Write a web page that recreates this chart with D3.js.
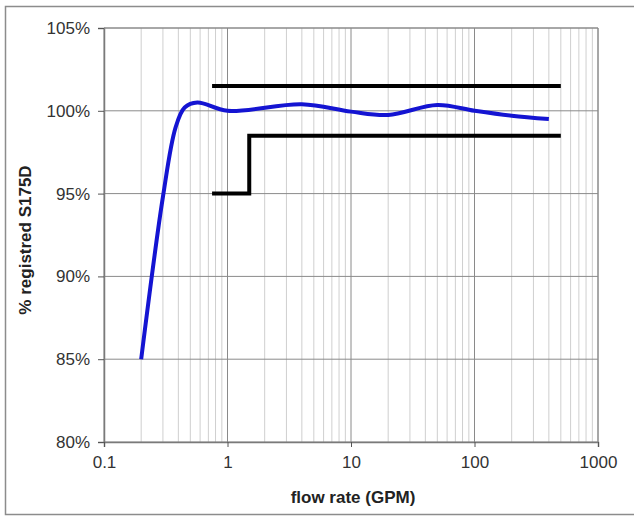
<!DOCTYPE html>
<html><head><meta charset="utf-8">
<script src="https://cdn.jsdelivr.net/npm/d3@7"></script>
<style>body{margin:0;background:#fff} text{font-family:"Liberation Sans",Arial,sans-serif}</style>
</head><body><svg id="c" width="634" height="519"></svg>
<script>
const flowRates = [0.2, 0.3, 0.38, 0.45, 0.57, 1, 4, 10, 20, 50, 100, 200, 400];
const registered = [85, 94.8, 99.0, 100.2, 100.5, 100.0, 100.4, 99.95, 99.75, 100.35, 100.0, 99.7, 99.5];
const upperLimitX = [0.75, 500];
const upperLimitY = [101.5, 101.5];
const lowerLimitX = [0.75, 1.5, 1.5, 500];
const lowerLimitY = [95, 95, 98.5, 98.5];
const xTicks = [0.1, 1, 10, 100, 1000];
const xTickLabels = ["0.1", "1", "10", "100", "1000"];
const yTicks = [80, 85, 90, 95, 100, 105];
const yTickLabels = ["80%", "85%", "90%", "95%", "100%", "105%"];

const svg = d3.select("#c");
const L = 104, R = 598, T = 28, B = 442;
const x = d3.scaleLog().domain([0.1, 1000]).range([L, R]);
const y = d3.scaleLinear().domain([80, 105]).range([B, T]);

// outer frame
svg.append("rect").attr("x", 5.5).attr("y", 6.5).attr("width", 700).attr("height", 508)
  .attr("fill", "none").attr("stroke", "#8c8c8c").attr("stroke-width", 1.5);

// minor vertical grid
const minor = [];
xTicks.slice(0, -1).forEach(d => { for (let k = 2; k <= 9; k++) minor.push(d * k); });
svg.append("g").selectAll("line").data(minor).join("line")
  .attr("x1", d => x(d)).attr("x2", d => x(d)).attr("y1", T).attr("y2", B)
  .attr("stroke", "#cfcfcf").attr("stroke-width", 1);
// major vertical grid
svg.append("g").selectAll("line").data(xTicks).join("line")
  .attr("x1", d => x(d)).attr("x2", d => x(d)).attr("y1", T).attr("y2", B)
  .attr("stroke", "#8a8a8a").attr("stroke-width", 1);
// horizontal grid
svg.append("g").selectAll("line").data(yTicks).join("line")
  .attr("x1", L).attr("x2", R).attr("y1", d => y(d)).attr("y2", d => y(d))
  .attr("stroke", "#8a8a8a").attr("stroke-width", 1);

// axes
const yAxis = svg.append("g").attr("transform", `translate(${L},0)`)
  .call(d3.axisLeft(y).tickValues(yTicks).tickFormat((d, i) => yTickLabels[i]).tickSize(6).tickPadding(8));
const xAxis = svg.append("g").attr("transform", `translate(0,${B})`)
  .call(d3.axisBottom(x).tickValues(xTicks).tickFormat((d, i) => xTickLabels[i]).tickSize(5).tickPadding(9));
[yAxis, xAxis].forEach(g => {
  g.select(".domain").attr("stroke", "#7a7a7a").attr("stroke-width", 1.5);
  g.selectAll(".tick line").attr("stroke", "#555");
  g.selectAll("text").attr("font-size", 17).attr("fill", "#333")
    .attr("font-family", '"Liberation Sans",Arial,sans-serif');
});
// plot frame top and right
svg.append("path").attr("d", `M${L},${T}H${R}V${B}`).attr("fill", "none")
  .attr("stroke", "#8a8a8a").attr("stroke-width", 1);

// limit lines
const lim = d3.line().x(d => x(d[0])).y(d => y(d[1]));
svg.append("path").datum(upperLimitX.map((v, i) => [v, upperLimitY[i]])).attr("d", lim)
  .attr("fill", "none").attr("stroke", "#000").attr("stroke-width", 4);
svg.append("path").datum(lowerLimitX.map((v, i) => [v, lowerLimitY[i]])).attr("d", lim)
  .attr("fill", "none").attr("stroke", "#000").attr("stroke-width", 4);

// data curve
const curve = d3.line().x(d => x(d[0])).y(d => y(d[1])).curve(d3.curveCatmullRom.alpha(0.5));
svg.append("path").datum(flowRates.map((v, i) => [v, registered[i]])).attr("d", curve)
  .attr("fill", "none").attr("stroke", "#1414d2").attr("stroke-width", 4).attr("stroke-linejoin", "round");

// titles
svg.append("text").attr("x", 353).attr("y", 503).attr("text-anchor", "middle")
  .attr("font-size", 17).attr("font-weight", "bold").attr("fill", "#222").text("flow rate (GPM)");
svg.append("text").attr("transform", "translate(31,240) rotate(-90)").attr("text-anchor", "middle")
  .attr("font-size", 17).attr("font-weight", "bold").attr("fill", "#222").text("% registred S175D");
</script></body></html>
